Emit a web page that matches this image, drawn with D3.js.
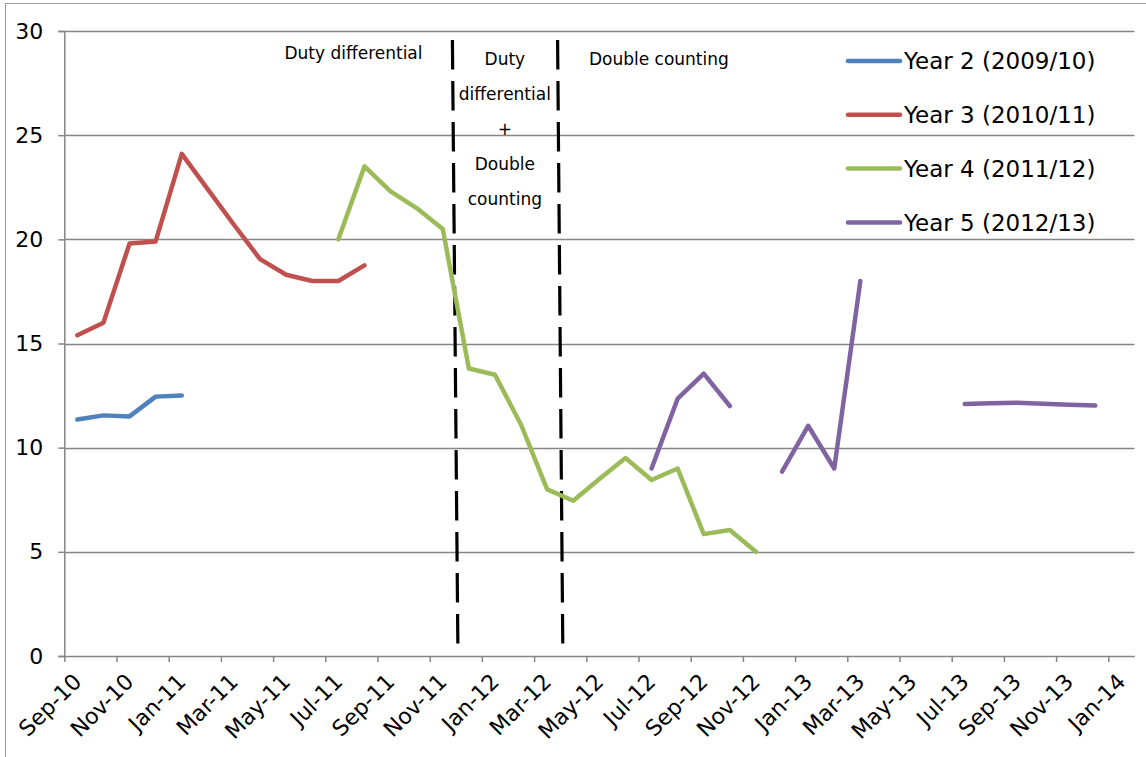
<!DOCTYPE html>
<html>
<head>
<meta charset="utf-8">
<script src="https://cdn.jsdelivr.net/npm/d3@7"></script>
<style>
  html, body { margin: 0; padding: 0; background: #fff; }
  svg { display: block; font-family: "DejaVu Sans", Verdana, sans-serif; }
</style>
</head>
<body>
<svg id="chart" width="1146" height="757"></svg>
<script>
// Monthly categories on the horizontal axis
const months = [
  "Sep-10","Oct-10","Nov-10","Dec-10",
  "Jan-11","Feb-11","Mar-11","Apr-11","May-11","Jun-11","Jul-11","Aug-11","Sep-11","Oct-11","Nov-11","Dec-11",
  "Jan-12","Feb-12","Mar-12","Apr-12","May-12","Jun-12","Jul-12","Aug-12","Sep-12","Oct-12","Nov-12","Dec-12",
  "Jan-13","Feb-13","Mar-13","Apr-13","May-13","Jun-13","Jul-13","Aug-13","Sep-13","Oct-13","Nov-13","Dec-13",
  "Jan-14"
];
const xTickLabels = ["Sep-10","Nov-10","Jan-11","Mar-11","May-11","Jul-11","Sep-11","Nov-11",
  "Jan-12","Mar-12","May-12","Jul-12","Sep-12","Nov-12","Jan-13","Mar-13","May-13","Jul-13",
  "Sep-13","Nov-13","Jan-14"];
const yTicks = [0, 5, 10, 15, 20, 25, 30];

// Series: first month plus monthly values (null = no data)
const seriesNames = ["Year 2 (2009/10)", "Year 3 (2010/11)", "Year 4 (2011/12)", "Year 5 (2012/13)"];
const seriesStart = ["Sep-10", "Sep-10", "Jul-11", "Jul-12"];
const year2 = [11.35, 11.55, 11.5, 12.45, 12.5];
const year3 = [15.4, 16.0, 19.8, 19.9, 24.1, 22.4, 20.7, 19.05, 18.3, 18.0, 18.0, 18.75];
const year4 = [20.0, 23.5, 22.3, 21.5, 20.5, 13.8, 13.5, 11.1, 8.0, 7.45, 8.5, 9.5, 8.45, 9.0, 5.85, 6.05, 5.0];
const year5 = [9.0, 12.35, 13.55, 12.0, null, 8.85, 11.05, 9.0, 18.0, null, null, null,
  12.1, 12.13, 12.16, 12.11, 12.06, 12.02];
const seriesValues = [year2, year3, year4, year5];
const seriesColors = ["#4F81BD", "#C0504D", "#9BBB59", "#8064A2"];

// Policy period dividers (in month units from Sep-10) and their labels
const dividers = [{ top: 14.87, bottom: 15.08 }, { top: 18.9, bottom: 19.1 }];
const periodLabels = [
  { at: 11.08, lines: ["Duty differential"], first: 28.66 },
  { at: 16.88, lines: ["Duty", "differential", "+", "Double", "counting"], first: 28.35 },
  { at: 22.78, lines: ["Double counting"], first: 28.35 }
];

const svg = d3.select("#chart");
const plotLeft = 64.3, plotRight = 1134.4, plotTop = 31, plotBottom = 656;

const x = d3.scaleLinear().domain([0, months.length]).range([plotLeft, plotRight]);
const y = d3.scaleLinear().domain([0, 30]).range([plotBottom, plotTop]);
const axisGrey = "#868686";

// Chart frame
svg.append("rect")
  .attr("x", 5.5).attr("y", 3.5).attr("width", 1160).attr("height", 770)
  .attr("fill", "none").attr("stroke", "#9a9a9a").attr("stroke-width", 1);

// Horizontal gridlines
svg.append("g")
  .selectAll("line").data(yTicks.filter(v => v > 0)).join("line")
  .attr("x1", plotLeft).attr("x2", plotRight)
  .attr("y1", d => Math.round(y(d)) + 0.5).attr("y2", d => Math.round(y(d)) + 0.5)
  .attr("stroke", axisGrey).attr("stroke-width", 1.3);

// Y axis
const yAxis = svg.append("g")
  .attr("transform", `translate(${plotLeft},0)`)
  .call(d3.axisLeft(y).tickValues(yTicks).tickSize(6).tickPadding(15));
yAxis.select(".domain").attr("stroke", axisGrey).attr("stroke-width", 1.5);
yAxis.selectAll(".tick line").attr("stroke", axisGrey).attr("stroke-width", 1.5);
yAxis.selectAll(".tick text")
  .attr("font-size", 22).attr("font-family", "DejaVu Sans, Verdana, sans-serif").attr("fill", "#000");

// X axis: ticks every second month at the start of the month slot
const xTickIdx = xTickLabels.map(l => months.indexOf(l));
const xAxis = svg.append("g")
  .attr("transform", `translate(0,${plotBottom})`)
  .call(d3.axisBottom(x).tickValues(xTickIdx).tickSize(6).tickSizeOuter(0)
    .tickFormat(i => months[i]));
xAxis.select(".domain").attr("stroke", axisGrey).attr("stroke-width", 1.5);
xAxis.selectAll(".tick line").attr("stroke", axisGrey).attr("stroke-width", 1.5);
xAxis.selectAll(".tick text")
  .attr("font-size", 22).attr("font-family", "DejaVu Sans, Verdana, sans-serif").attr("fill", "#000")
  .attr("text-anchor", "end")
  .attr("x", 0).attr("y", 0).attr("dy", 0)
  .attr("transform", "translate(18,27) rotate(-45)");

// Dashed period dividers
svg.append("g")
  .selectAll("line").data(dividers).join("line")
  .attr("x1", d => x(d.top)).attr("y1", y(29.57))
  .attr("x2", d => x(d.bottom)).attr("y2", y(0.38))
  .attr("stroke", "#000").attr("stroke-width", 3.2)
  .attr("stroke-dasharray", "29.5 11.5");

// Period labels
const labelLineGap = 35;
periodLabels.forEach(p => {
  const t = svg.append("text")
    .attr("x", x(p.at)).attr("y", y(p.first))
    .attr("text-anchor", "middle").attr("font-size", 17).attr("fill", "#000");
  p.lines.forEach((ln, i) => {
    t.append("tspan").attr("x", x(p.at)).attr("dy", i === 0 ? 0 : labelLineGap).text(ln);
  });
});

// Series lines
const line = d3.line()
  .defined(d => d.v !== null)
  .x(d => x(d.i + 0.5))
  .y(d => y(d.v));

seriesValues.forEach((vals, s) => {
  const start = months.indexOf(seriesStart[s]);
  const pts = vals.map((v, k) => ({ i: start + k, v }));
  svg.append("path")
    .datum(pts)
    .attr("d", line)
    .attr("fill", "none")
    .attr("stroke", seriesColors[s])
    .attr("stroke-width", 4.5)
    .attr("stroke-linejoin", "round")
    .attr("stroke-linecap", "round");
});

// Legend
const legend = svg.append("g").attr("transform", "translate(848,61)");
seriesNames.forEach((name, s) => {
  const g = legend.append("g").attr("transform", `translate(0,${s * 53.8})`);
  g.append("line").attr("x1", 0).attr("x2", 52).attr("y1", 0).attr("y2", 0)
    .attr("stroke", seriesColors[s]).attr("stroke-width", 4.5).attr("stroke-linecap", "round");
  g.append("text").attr("x", 56).attr("y", 0).attr("dy", "0.36em")
    .attr("font-size", 23).attr("fill", "#000").text(name);
});
</script>
</body>
</html>
